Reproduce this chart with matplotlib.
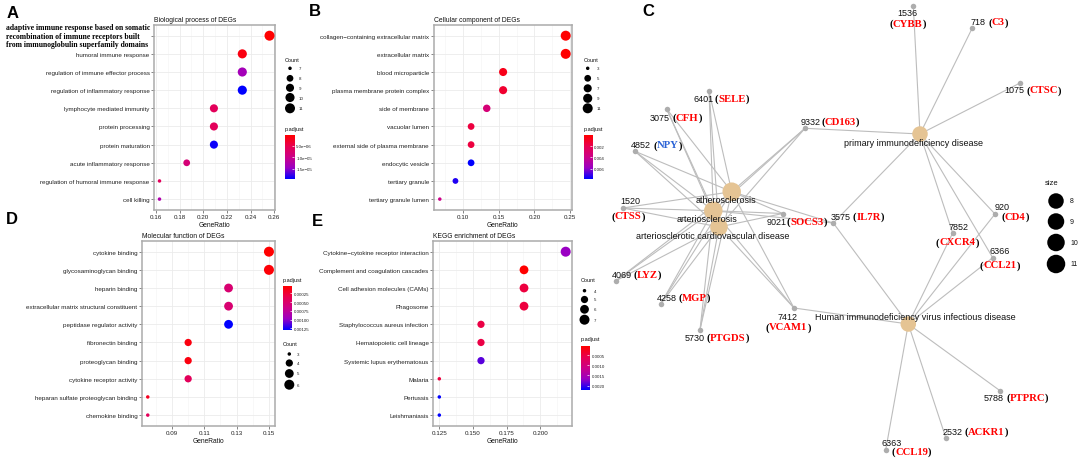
import numpy as np
import matplotlib
matplotlib.use('Agg')
import matplotlib.pyplot as plt
import matplotlib.transforms as mtransforms
from matplotlib.colors import LinearSegmentedColormap, Normalize
from matplotlib.offsetbox import TextArea, HPacker, AnnotationBbox

plt.rcParams['font.family'] = ['Liberation Sans', 'DejaVu Sans']

# ---------------- DATA ----------------
cats_A = ["adaptive immune response based on somatic\nrecombination of immune receptors built\nfrom immunoglobulin superfamily domains",
          "humoral immune response", "regulation of immune effector process",
          "regulation of inflammatory response", "lymphocyte mediated immunity",
          "protein processing", "protein maturation", "acute inflammatory response",
          "regulation of humoral immune response", "cell killing"]
ratio_A = [0.256, 0.233, 0.233, 0.233, 0.209, 0.209, 0.209, 0.186, 0.163, 0.163]
count_A = [11, 10, 10, 10, 9, 9, 9, 8, 7, 7]
padj_A = [2e-7, 1.2e-6, 1.37e-5, 1.95e-5, 6e-6, 6e-6, 1.91e-5, 8.3e-6, 6e-6, 1.27e-5]

cats_B = ["collagen\u2212containing extracellular matrix", "extracellular matrix",
          "blood microparticle", "plasma membrane protein complex", "side of membrane",
          "vacuolar lumen", "external side of plasma membrane", "endocytic vesicle",
          "tertiary granule", "tertiary granule lumen"]
ratio_B = [0.244, 0.244, 0.156, 0.156, 0.133, 0.111, 0.111, 0.111, 0.089, 0.067]
count_B = [11, 11, 7, 7, 6, 5, 5, 5, 4, 3]
padj_B = [5e-5, 6e-5, 6.7e-4, 1.21e-3, 3.3e-3, 1.6e-3, 1.6e-3, 7.8e-3, 7.4e-3, 3.9e-3]

cats_D = ["cytokine binding", "glycosaminoglycan binding", "heparin binding",
          "extracellular matrix structural constituent", "peptidase regulator activity",
          "fibronectin binding", "proteoglycan binding", "cytokine receptor activity",
          "heparan sulfate proteoglycan binding", "chemokine binding"]
ratio_D = [0.150, 0.150, 0.125, 0.125, 0.125, 0.100, 0.100, 0.100, 0.075, 0.075]
count_D = [6, 6, 5, 5, 5, 4, 4, 4, 3, 3]
padj_D = [3.3e-5, 5.8e-5, 5.3e-4, 5.3e-4, 1.29e-3, 9.6e-5, 9.6e-5, 4.1e-4, 1.6e-4, 4.1e-4]

cats_E = ["Cytokine\u2212cytokine receptor interaction", "Complement and coagulation cascades",
          "Cell adhesion molecules (CAMs)", "Phagosome", "Staphylococcus aureus infection",
          "Hematopoietic cell lineage", "Systemic lupus erythematosus", "Malaria",
          "Pertussis", "Leishmaniasis"]
ratio_E = [0.219, 0.188, 0.188, 0.188, 0.156, 0.156, 0.156, 0.125, 0.125, 0.125]
count_E = [7, 6, 6, 6, 5, 5, 5, 4, 4, 4]
padj_E = [1.66e-3, 4.4e-5, 4.8e-4, 4.8e-4, 5.2e-4, 5.2e-4, 1.88e-3, 4.8e-4, 2.2e-3, 2.2e-3]

xticks_A = [0.16, 0.18, 0.20, 0.22, 0.24, 0.26]
xticklabels_A = ["0.16", "0.18", "0.20", "0.22", "0.24", "0.26"]
xticks_B = [0.10, 0.15, 0.20, 0.25]
xticklabels_B = ["0.10", "0.15", "0.20", "0.25"]
xticks_D = [0.09, 0.11, 0.13, 0.15]
xticklabels_D = ["0.09", "0.11", "0.13", "0.15"]
xticks_E = [0.125, 0.150, 0.175, 0.200]
xticklabels_E = ["0.125", "0.150", "0.175", "0.200"]

count_breaks_A = [7, 8, 9, 10, 11]
count_breaks_B = [3, 5, 7, 9, 11]
count_breaks_D = [3, 4, 5, 6]
count_breaks_E = [4, 5, 6, 7]
padj_ticks_A = [5e-6, 1e-5, 1.5e-5]
padj_labels_A = ["5.0e\u221206", "1.0e\u221205", "1.5e\u221205"]
padj_ticks_B = [0.002, 0.004, 0.006]
padj_labels_B = ["0.002", "0.004", "0.006"]
padj_ticks_D = [0.00025, 0.0005, 0.00075, 0.001, 0.00125]
padj_labels_D = ["0.00025", "0.00050", "0.00075", "0.00100", "0.00125"]
padj_ticks_E = [0.0005, 0.001, 0.0015, 0.002]
padj_labels_E = ["0.0005", "0.0010", "0.0015", "0.0020"]

# network data
diseases = ["atherosclerosis", "arteriosclerosis", "arteriosclerotic cardiovascular disease",
            "primary immunodeficiency disease", "Human immunodeficiency virus infectious disease"]
disease_genes = [
    ["SELE", "CFH", "NPY", "CD163", "CTSS", "SOCS3", "IL7R", "LYZ", "MGP", "PTGDS", "VCAM1"],
    ["SELE", "CFH", "NPY", "CD163", "CTSS", "SOCS3", "IL7R", "LYZ", "MGP", "PTGDS", "VCAM1"],
    ["SELE", "CFH", "NPY", "CD163", "CTSS", "SOCS3", "LYZ", "MGP", "PTGDS", "VCAM1"],
    ["CYBB", "C3", "CTSC", "CD163", "IL7R", "CD4", "CXCR4", "CCL21"],
    ["IL7R", "VCAM1", "CXCR4", "CD4", "CCL21", "PTPRC", "ACKR1", "CCL19"],
]
genes = ["CYBB", "C3", "CTSC", "CD163", "IL7R", "CD4", "CXCR4", "CCL21", "SELE", "CFH",
         "NPY", "CTSS", "SOCS3", "LYZ", "MGP", "PTGDS", "VCAM1", "PTPRC", "ACKR1", "CCL19"]
gene_ids = ["1536", "718", "1075", "9332", "3575", "920", "7852", "6366", "6401", "3075",
            "4852", "1520", "9021", "4069", "4258", "5730", "7412", "5788", "2532", "6363"]
gene_colors = {"NPY": "#2A62D6"}
size_breaks = [8, 9, 10, 11]

# ---------------- LAYOUT (pixel positions) ----------------
disease_xy = [(731.7, 192.7), (713.3, 211.7), (719.0, 228.0), (920.0, 135.0), (908.3, 325.0)]
disease_label_xy = [(726.0, 200.5), (706.7, 219.3), (712.7, 236.7), (913.0, 144.0), (915.5, 317.5)]
gene_xy = {
    "CYBB": (913.3, 6.7), "C3": (972.3, 29.0), "CTSC": (1020.0, 84.0), "CD163": (805.0, 129.3),
    "IL7R": (833.3, 224.0), "CD4": (995.0, 215.0), "CXCR4": (952.7, 234.0), "CCL21": (992.7, 258.7),
    "SELE": (709.0, 91.7), "CFH": (666.7, 110.0), "NPY": (635.0, 152.3), "CTSS": (622.7, 209.0),
    "SOCS3": (782.7, 214.5), "LYZ": (616.0, 281.7), "MGP": (660.7, 305.0), "PTGDS": (700.0, 330.7),
    "VCAM1": (794.0, 309.0), "PTPRC": (1000.0, 391.7), "ACKR1": (946.0, 439.3), "CCL19": (885.7, 451.0),
}
# one-line labels: (left x, centre y, gap pt) ; two-line: (id centre), (gene centre)
label_one = {
    "C3": (971, 22.7, 1.5), "CTSC": (1004, 90.7, 1.5), "PTPRC": (984, 398.3, 1.5),
    "ACKR1": (942.7, 432.3, 1.5), "IL7R": (830.7, 217.3, 1.5), "SELE": (693.3, 99.0, 1.0),
    "CFH": (650, 118.3, 1.5), "NPY": (631, 145.7, 1.5), "CD163": (801, 122.3, 0.0),
    "SOCS3": (766.7, 222.3, 0.0), "LYZ": (611.7, 275.0, 1.0), "MGP": (656.7, 298.3, 1.0),
    "PTGDS": (684.3, 338.3, 1.5),
}
label_two = {
    "CYBB": ((907.7, 13.3), (907.7, 24.0)), "CD4": ((1001.7, 207.3), (1015.0, 217.3)),
    "CXCR4": ((959.0, 227.3), (957.3, 242.7)), "CCL21": ((999.3, 251.7), (1000.0, 265.7)),
    "CCL19": ((891.7, 443.3), (911.7, 452.3)), "CTSS": ((630.0, 201.7), (628.3, 216.7)),
    "VCAM1": ((787.7, 317.3), (788.3, 327.7)),
}

W, H = 1084, 460
fig = plt.figure(figsize=(W / 100, H / 100), dpi=100)


def frect(l, t, r, b):
    return [l / W, 1 - b / H, (r - l) / W, (b - t) / H]


cmap = LinearSegmentedColormap.from_list('padj', ['#FF0000', '#E8004F', '#CC0088', '#9A00C3', '#0000FF'])

ax0 = fig.add_axes([0, 0, 1, 1])
ax0.set_xlim(0, W)
ax0.set_ylim(H, 0)
ax0.axis('off')


def dot_px(c, cmin, cmax):
    c = np.asarray(c, dtype=float)
    return 3.5 + 6.5 * np.sqrt((c - cmin) / (cmax - cmin))


def s_of(px):
    return (np.asarray(px) * 0.72) ** 2


def dotplot(rect, cats, ratio, count, padj, xt, xtl, title, special_first=False):
    ax = fig.add_axes(frect(*rect))
    n = len(cats)
    y = np.arange(n)
    norm = Normalize(min(padj), max(padj))
    ax.scatter(ratio, y, s=s_of(dot_px(count, min(count), max(count))), c=padj, cmap=cmap,
               norm=norm, linewidths=0, zorder=3)
    xr = max(ratio) - min(ratio)
    lo, hi = min(ratio) - 0.05 * xr, max(ratio) + 0.05 * xr
    ax.set_xlim(lo, hi)
    ax.set_ylim(n - 0.4, -0.6)
    ax.set_yticks(y)
    labels = list(cats)
    if special_first:
        labels[0] = ""
        tr = mtransforms.blended_transform_factory(ax.transAxes, ax.transData)
        ax.text(-0.03, y[0], cats[0], transform=tr, ha='right', va='center', multialignment='left',
                fontfamily='Liberation Serif', fontweight='bold', fontsize=5.5, linespacing=1.1,
                color='black')
    ax.set_yticklabels(labels)
    ax.set_xticks(xt)
    ax.set_xticklabels(xtl)
    step = xt[1] - xt[0]
    minors = [v for v in np.arange(xt[0] - step / 2, hi, step) if lo < v < hi and
              min(abs(v - t) for t in xt) > step / 4]
    ax.set_xticks(minors, minor=True)
    ax.grid(True, which='major', color='#EBEBEB', lw=0.6)
    ax.grid(True, which='minor', axis='x', color='#F3F3F3', lw=0.4)
    ax.set_axisbelow(True)
    ax.tick_params(axis='both', which='major', length=2, width=0.5, color='#555555',
                   labelsize=4.5, pad=1.2, labelcolor='#222222')
    ax.tick_params(which='minor', length=0)
    for sp in ax.spines.values():
        sp.set_color('#ABABAB')
        sp.set_linewidth(1.1)
    ax.set_title(title, loc='left', pad=2.5, fontsize=4.9, color='#111111')
    ax.set_xlabel('GeneRatio', fontsize=4.8, labelpad=1.0, color='#111111')
    return ax


def count_legend(xt, yt, xd, ys, xl, breaks, cmin, cmax):
    ax0.text(xt, yt, 'Count', fontsize=4, ha='left', va='center', color='#111111')
    ax0.scatter([xd] * len(breaks), ys, s=s_of(dot_px(breaks, cmin, cmax)), c='black',
                linewidths=0)
    for yy, b in zip(ys, breaks):
        ax0.text(xl, yy, str(b), fontsize=3.2, ha='left', va='center', color='#222222')


def padj_legend(xt, yt, rect, vmin, vmax, ticks, labels):
    ax0.text(xt, yt, 'p.adjust', fontsize=4, ha='left', va='center', color='#111111')
    cax = fig.add_axes(frect(*rect))
    grad = np.linspace(vmin, vmax, 300)[:, None]
    cax.imshow(grad, aspect='auto', cmap=cmap, norm=Normalize(vmin, vmax),
               extent=[0, 1, vmax, vmin], origin='upper')
    cax.set_xlim(0, 1)
    cax.set_ylim(vmax, vmin)
    cax.set_xticks([])
    cax.yaxis.tick_right()
    cax.set_yticks(ticks)
    cax.set_yticklabels(labels)
    cax.tick_params(axis='y', direction='in', length=1.8, width=0.5, color='white', pad=1.5,
                    labelsize=3.2, labelcolor='#222222')
    for sp in cax.spines.values():
        sp.set_visible(False)


# Panel A
dotplot((154, 25.8, 275, 211), cats_A, ratio_A, count_A, padj_A, xticks_A, xticklabels_A,
        "Biological process of DEGs", special_first=True)
count_legend(285, 60, 290, [69.3, 79.3, 88.8, 98.5, 109.3], 298.5, count_breaks_A, min(count_A), max(count_A))
padj_legend(285, 129.3, (285, 136, 294.3, 180), min(padj_A), max(padj_A), padj_ticks_A, padj_labels_A)

# Panel B
dotplot((433.5, 25.8, 572, 211), cats_B, ratio_B, count_B, padj_B, xticks_B, xticklabels_B,
        "Cellular component of DEGs")
count_legend(583.5, 60, 587.7, [69.3, 79.3, 89.3, 99.3, 109.3], 596.5, count_breaks_B, min(count_B), max(count_B))
padj_legend(583.5, 130, (583.5, 136, 591.7, 180), min(padj_B), max(padj_B), padj_ticks_B, padj_labels_B)

# Panel D
dotplot((141.7, 241.8, 275, 427), cats_D, ratio_D, count_D, padj_D, xticks_D, xticklabels_D,
        "Molecular function of DEGs")
padj_legend(283, 280.7, (283.3, 286.7, 292, 330.7), min(padj_D), max(padj_D), padj_ticks_D, padj_labels_D)
count_legend(283, 345, 289.3, [355, 364, 374.5, 385.7], 297, count_breaks_D, min(count_D), max(count_D))

# Panel E
dotplot((433, 241.8, 572, 427), cats_E, ratio_E, count_E, padj_E, xticks_E, xticklabels_E,
        "KEGG enrichment of DEGs")
count_legend(581, 280.7, 584.5, [291.7, 300.5, 310.3, 320.7], 593.5, count_breaks_E, min(count_E), max(count_E))
padj_legend(581, 340, (581, 346.7, 589.3, 390.7), min(padj_E), max(padj_E), padj_ticks_E, padj_labels_E)

# ---------------- Network (panel C) ----------------
def node_px(n):
    return 15.5 + (np.asarray(n, dtype=float) - 8) * 1.0


for (dx, dy), glist in zip(disease_xy, disease_genes):
    for g in glist:
        gx, gy = gene_xy[g]
        ax0.plot([dx, gx], [dy, gy], color='#BDBDBD', lw=0.8, zorder=1, solid_capstyle='round')

ax0.scatter([gene_xy[g][0] for g in genes], [gene_xy[g][1] for g in genes],
            s=s_of(5.5), c='#ADADAD', linewidths=0, zorder=2)
ax0.scatter([p[0] for p in disease_xy], [p[1] for p in disease_xy],
            s=s_of(node_px([len(g) for g in disease_genes])), c='#E5C494', linewidths=0, zorder=3)
for name, (lx, ly) in zip(diseases, disease_label_xy):
    ax0.text(lx, ly, name, fontsize=6.5, ha='center', va='center', color='#111111', zorder=5)

serif_b = dict(fontfamily='Liberation Serif', fontweight='bold', fontsize=7.7)


def gene_box(g):
    col = gene_colors.get(g, '#FF0000')
    return HPacker(children=[TextArea("(", textprops=dict(color='black', **serif_b)),
                             TextArea(g, textprops=dict(color=col, **serif_b)),
                             TextArea(")", textprops=dict(color='black', **serif_b))],
                   align='baseline', pad=0, sep=0)


for g, gid in zip(genes, gene_ids):
    if g in label_one:
        x, y, gap = label_one[g]
        box = HPacker(children=[TextArea(gid, textprops=dict(fontsize=6.5, color='#111111')), gene_box(g)],
                      align='baseline', pad=0, sep=gap)
        ab = AnnotationBbox(box, (x, y), xycoords='data', box_alignment=(0, 0.5), frameon=False, pad=0,
                            zorder=5)
        ax0.add_artist(ab)
    else:
        (x1, y1), (x2, y2) = label_two[g]
        ax0.text(x1, y1, gid, fontsize=6.5, ha='center', va='center', color='#111111', zorder=5)
        ab = AnnotationBbox(gene_box(g), (x2, y2), xycoords='data', box_alignment=(0.5, 0.5),
                            frameon=False, pad=0, zorder=5)
        ax0.add_artist(ab)

# size legend
ax0.text(1045, 184, 'size', fontsize=5.5, ha='left', va='center', color='#111111')
size_y = [202, 222.5, 243.5, 265]
ax0.scatter([1056] * len(size_breaks), size_y, s=s_of(node_px(size_breaks)), c='black', linewidths=0)
for yy, b in zip(size_y, size_breaks):
    ax0.text(1070, yy, str(b), fontsize=5.0, ha='left', va='center', color='#111111')

# panel letters
for letter, (lx, ly) in zip("ABCDE", [(12.7, 13.3), (315, 11.7), (648, 11.7), (12, 220), (317, 222)]):
    ax0.text(lx, ly, letter, fontsize=12, fontweight='bold', ha='center', va='center', color='black')

fig.savefig('out.png', dpi=100)
